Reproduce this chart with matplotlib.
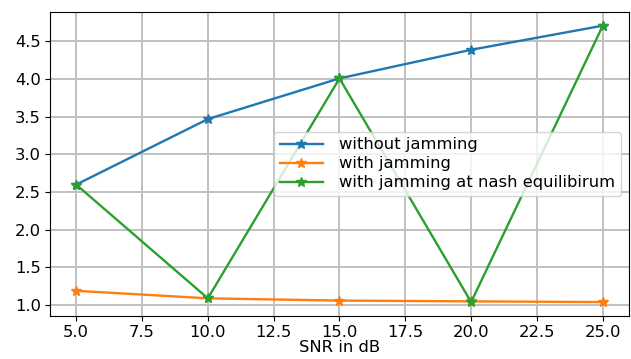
import matplotlib.pyplot as plt
from matplotlib.ticker import MultipleLocator

snr = [5, 10, 15, 20, 25]
without_jamming = [2.60, 3.47, 4.01, 4.39, 4.71]
with_jamming = [1.19, 1.09, 1.06, 1.05, 1.04]
nash_jamming = [2.60, 1.09, 4.01, 1.04, 4.71]

plt.rcParams["font.size"] = 11.8

fig = plt.figure(figsize=(6.31, 3.59), dpi=100)
ax = fig.add_axes([0.079, 0.12, 0.918, 0.847])
ax.plot(snr, without_jamming, marker="*", lw=1.7, ms=7, label="without jamming")
ax.plot(snr, with_jamming, marker="*", lw=1.7, ms=7, label="with jamming")
ax.plot(snr, nash_jamming, marker="*", lw=1.7, ms=7, label="with jamming at nash equilibirum")
ax.yaxis.set_major_locator(MultipleLocator(0.5))
ax.xaxis.set_major_locator(MultipleLocator(2.5))
ax.grid(True, lw=1.4, color="#c0c0c0")
ax.tick_params(pad=3)
ax.set_xlabel("SNR in dB", labelpad=0)
ax.legend(loc="center right", handlelength=2.6, handletextpad=1.0,
          labelspacing=0.25, borderpad=0.35)
fig.savefig("out.png")
